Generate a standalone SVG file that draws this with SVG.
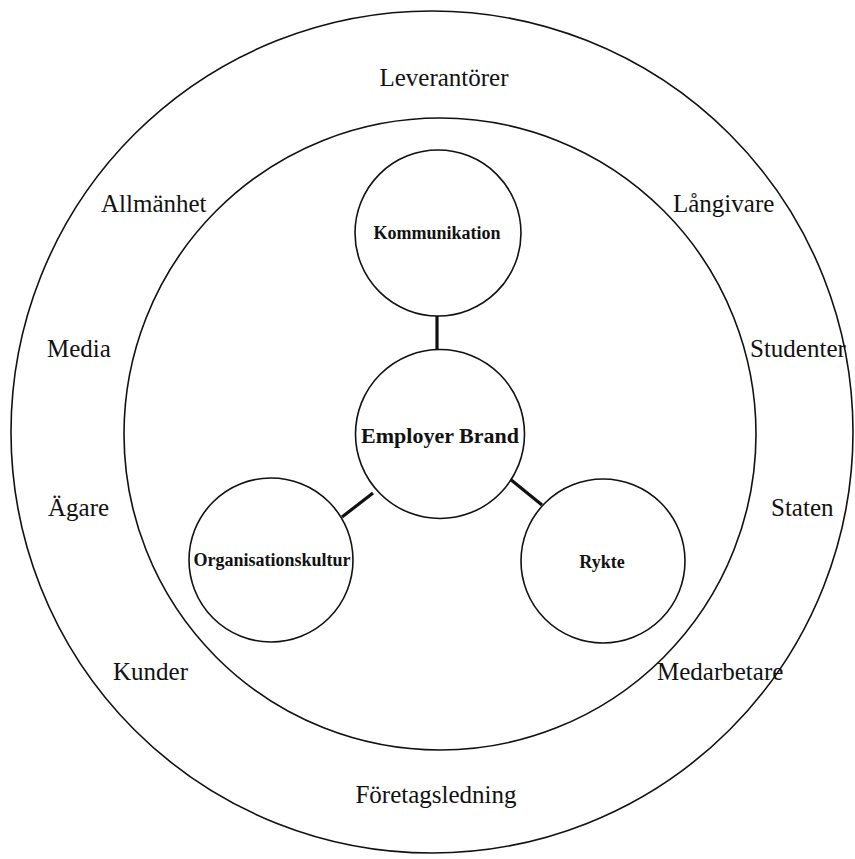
<svg xmlns="http://www.w3.org/2000/svg" width="855" height="859" viewBox="0 0 855 859">
<style>
.ring{fill:none;stroke:#111;stroke-width:1.6}
.node{fill:#fff;stroke:#111;stroke-width:1.6}
.conn{stroke:#111;stroke-width:3.2;fill:none}
.lbl{font-family:"Liberation Serif","Times New Roman",serif;font-size:25px;fill:#111}
.nl{font-family:"Liberation Serif","Times New Roman",serif;font-size:18px;font-weight:bold;fill:#111;text-anchor:middle}
.nlb{font-family:"Liberation Serif","Times New Roman",serif;font-size:22px;font-weight:bold;fill:#111;text-anchor:middle}
</style>
<rect width="855" height="859" fill="#fff"/>
<g id="outer-ring">
<circle class="ring" cx="432" cy="432" r="421"/>
</g>
<g id="inner-ring">
<circle class="ring" cx="440" cy="434" r="316"/>
</g>
<g id="stakeholders">
<text class="lbl" x="444" y="86" text-anchor="middle">Leverantörer</text>
<text class="lbl" x="101" y="212">Allmänhet</text>
<text class="lbl" x="673" y="212">Långivare</text>
<text class="lbl" x="47" y="357">Media</text>
<text class="lbl" x="750" y="357">Studenter</text>
<text class="lbl" x="48" y="516">Ägare</text>
<text class="lbl" x="771" y="516">Staten</text>
<text class="lbl" x="113" y="680">Kunder</text>
<text class="lbl" x="657" y="680">Medarbetare</text>
<text class="lbl" x="436" y="803" text-anchor="middle">Företagsledning</text>
</g>
<g id="connectors">
<line class="conn" x1="437" y1="316" x2="437" y2="350"/>
<line class="conn" x1="342" y1="517" x2="373" y2="493"/>
<line class="conn" x1="510" y1="479" x2="542" y2="505"/>
</g>
<g id="kommunikation">
<circle class="node" cx="438" cy="233" r="83"/>
<text class="nl" x="437" y="239">Kommunikation</text>
</g>
<g id="employer-brand">
<circle class="node" cx="440" cy="434" r="84.5"/>
<text class="nlb" x="440" y="443">Employer Brand</text>
</g>
<g id="organisationskultur">
<circle class="node" cx="271" cy="560" r="82"/>
<text class="nl" x="272" y="566">Organisationskultur</text>
</g>
<g id="rykte">
<circle class="node" cx="603" cy="561" r="82"/>
<text class="nl" x="602" y="568">Rykte</text>
</g>
</svg>
